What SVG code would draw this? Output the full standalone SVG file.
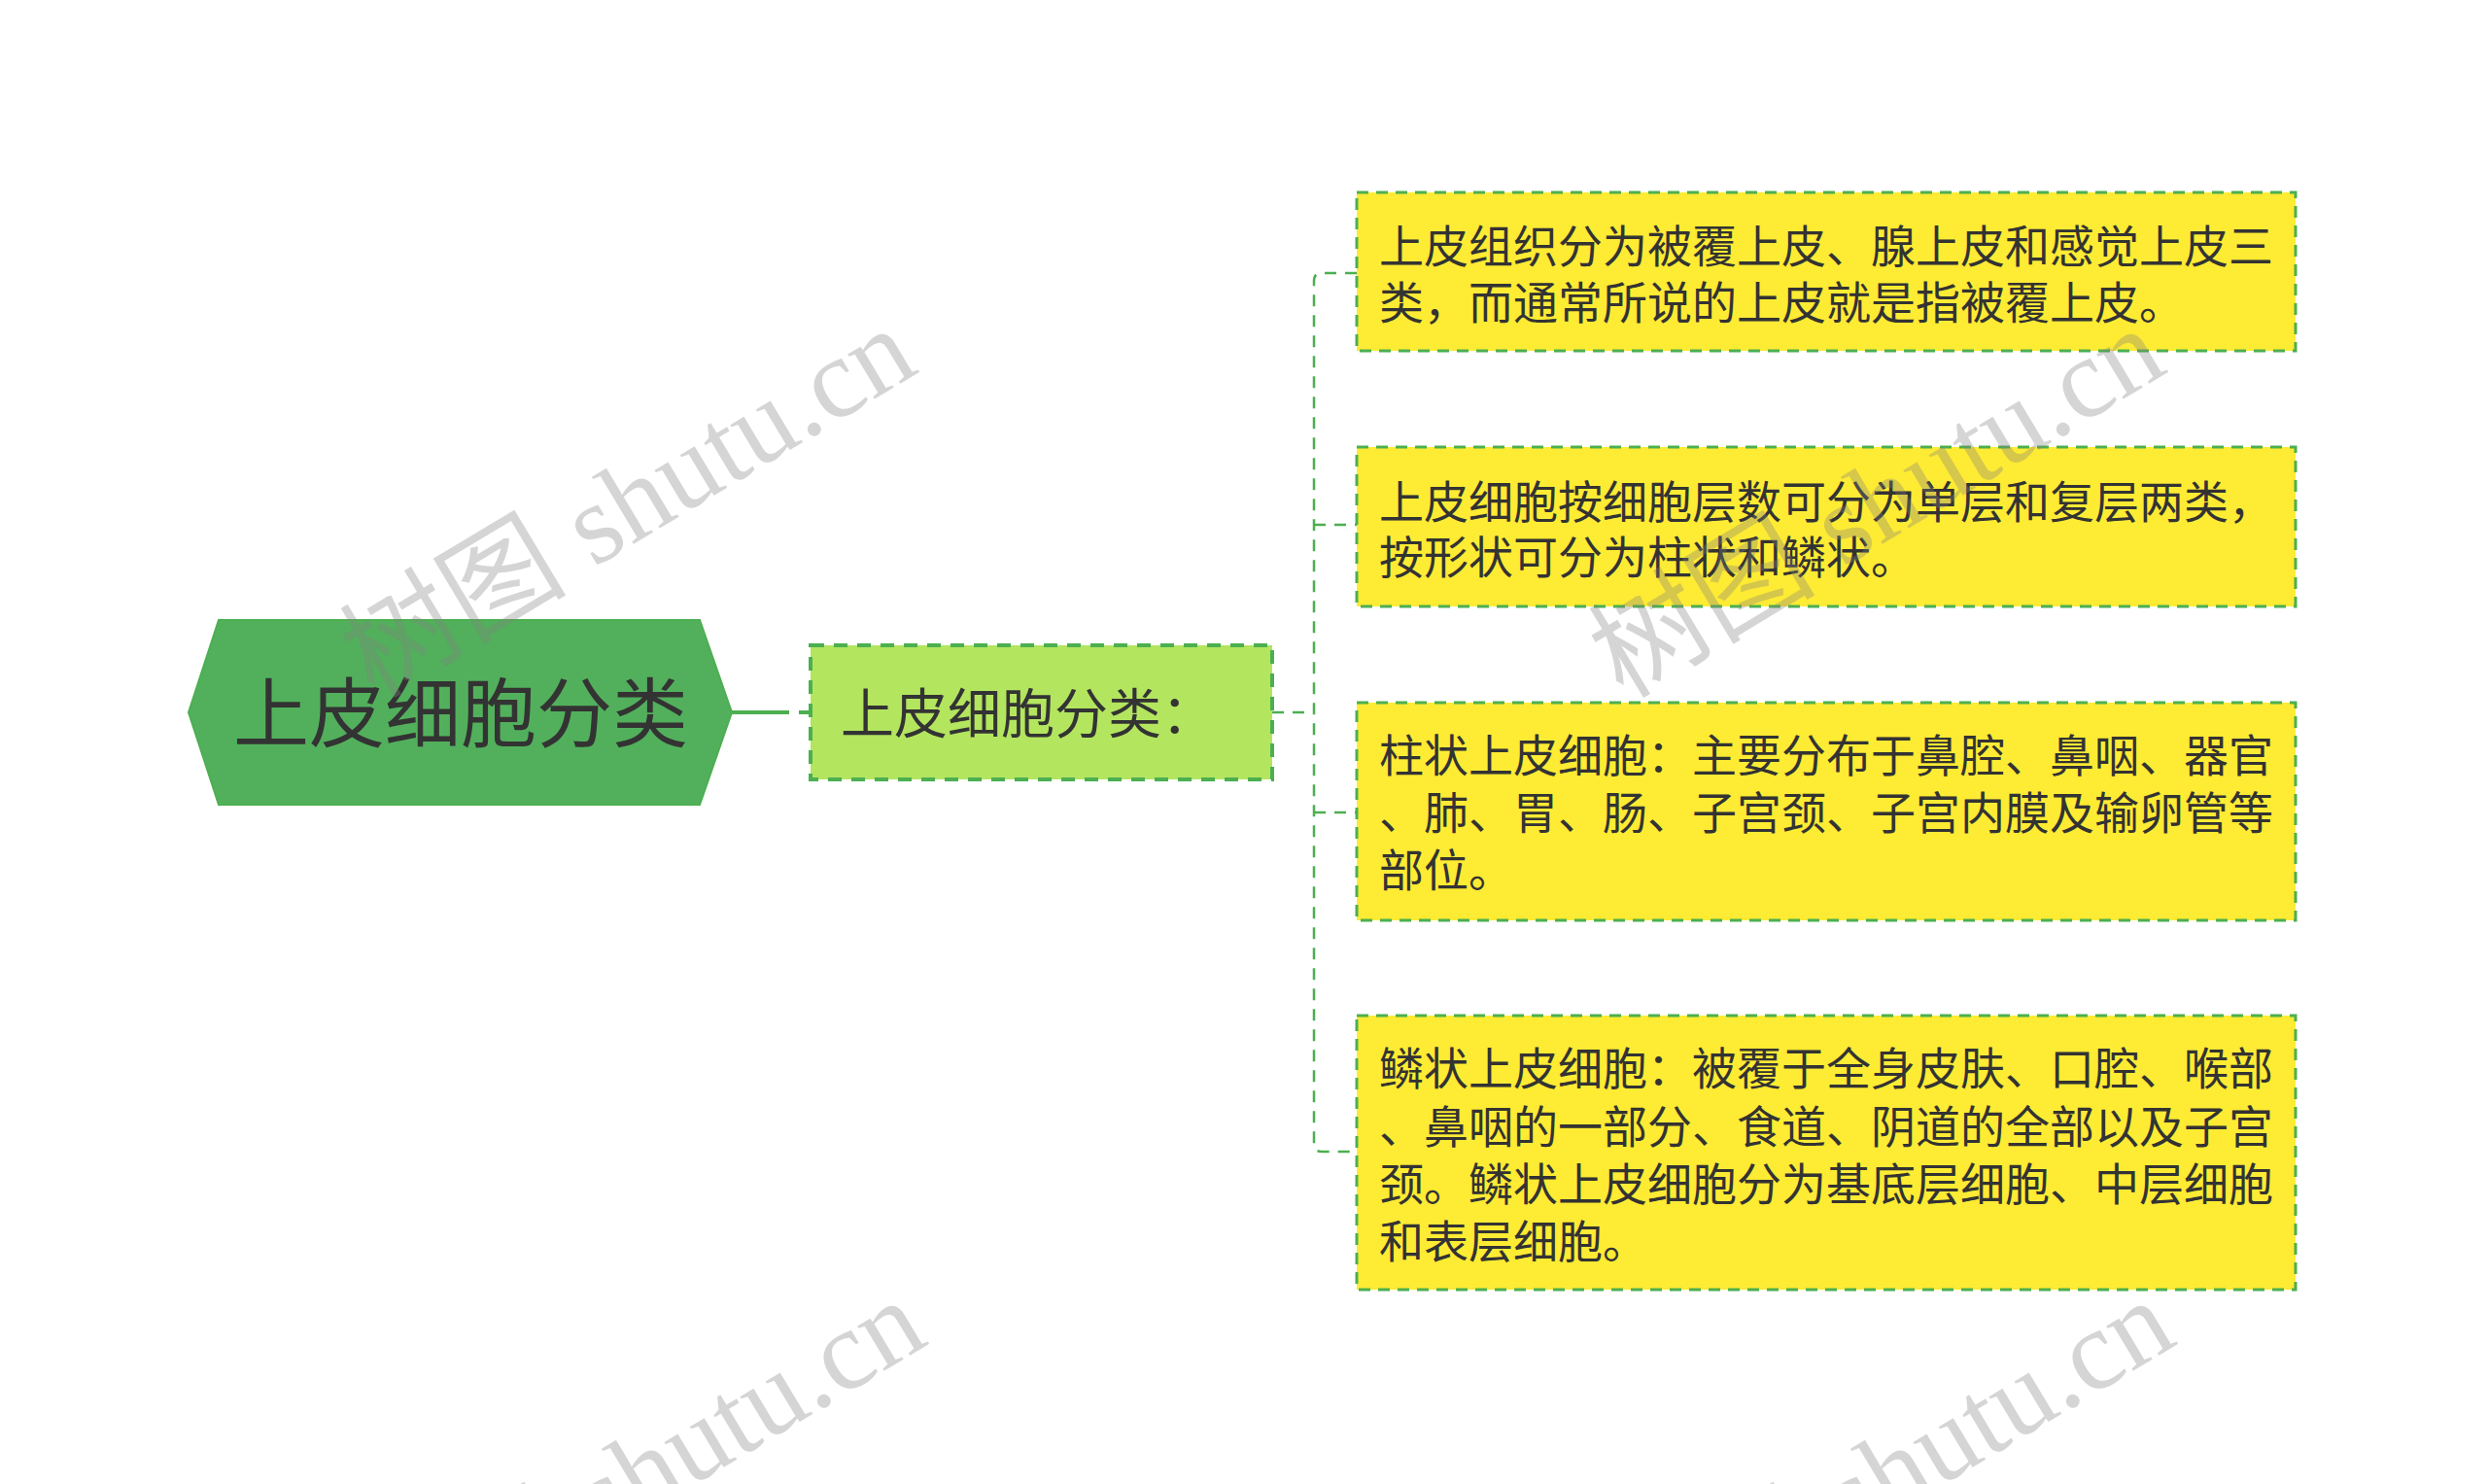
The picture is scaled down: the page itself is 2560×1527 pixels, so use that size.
<svg xmlns="http://www.w3.org/2000/svg" width="2560" height="1527" viewBox="0 0 2560 1527">
<style>
.txt{font-family:"Noto Sans CJK SC","Noto Sans",sans-serif;fill:#333333}
.leaf{fill:#feeb33;stroke:#4caf50;stroke-width:3;stroke-dasharray:12 8}
.conn{fill:none;stroke:#4caf50;stroke-width:2.5;stroke-dasharray:12 9}
.wm{font-family:"Liberation Serif","Noto Sans CJK SC",serif;font-size:117px;fill:#808080;fill-opacity:0.33}
</style>
<rect width="2560" height="1527" fill="#ffffff"/>
<g id="connectors">
  <line x1="753" y1="733" x2="834" y2="733" stroke="#4caf50" stroke-width="4" stroke-dasharray="59 10 12 0"/>
  <line x1="1309" y1="733" x2="1352" y2="733" class="conn"/>
  <path class="conn" d="M1396 281 H1360 Q1352 281 1352 289 V1177 Q1352 1185 1360 1185 H1396"/>
  <line x1="1352" y1="540" x2="1396" y2="540" class="conn"/>
  <line x1="1352" y1="836" x2="1396" y2="836" class="conn"/>
</g>
<g id="root">
  <polygon points="194,733 225,638 720,638 753,733 720,828 225,828" fill="#52b05c" stroke="#4caf50" stroke-width="2"/>
  <text class="txt" x="474" y="763" font-size="78" text-anchor="middle">上皮细胞分类</text>
</g>
<g id="sub">
  <rect x="834" y="664" width="475" height="138" fill="#b3e55f" stroke="#4caf50" stroke-width="4" stroke-dasharray="14 10"/>
  <text class="txt" x="865" y="754" font-size="55">上皮细胞分类：</text>
</g>
<g id="leaf1">
  <rect class="leaf" x="1396" y="198" width="966" height="163"/>
  <text class="txt" font-size="46"><tspan x="1419" y="270">上皮组织分为被覆上皮、腺上皮和感觉上皮三</tspan><tspan x="1419" y="328">类，而通常所说的上皮就是指被覆上皮。</tspan></text>
</g>
<g id="leaf2">
  <rect class="leaf" x="1396" y="460" width="966" height="164"/>
  <text class="txt" font-size="46"><tspan x="1419" y="533">上皮细胞按细胞层数可分为单层和复层两类，</tspan><tspan x="1419" y="590">按形状可分为柱状和鳞状。</tspan></text>
</g>
<g id="leaf3">
  <rect class="leaf" x="1396" y="723" width="966" height="224"/>
  <text class="txt" font-size="46"><tspan x="1419" y="794">柱状上皮细胞：主要分布于鼻腔、鼻咽、器官</tspan><tspan x="1419" y="853">、肺、胃、肠、子宫颈、子宫内膜及输卵管等</tspan><tspan x="1419" y="912">部位。</tspan></text>
</g>
<g id="leaf4">
  <rect class="leaf" x="1396" y="1045" width="966" height="282"/>
  <text class="txt" font-size="46"><tspan x="1419" y="1116">鳞状上皮细胞：被覆于全身皮肤、口腔、喉部</tspan><tspan x="1419" y="1176">、鼻咽的一部分、食道、阴道的全部以及子宫</tspan><tspan x="1419" y="1235">颈。鳞状上皮细胞分为基底层细胞、中层细胞</tspan><tspan x="1419" y="1294">和表层细胞。</tspan></text>
</g>
<g id="watermarks">
  <text class="wm" x="385" y="720" transform="rotate(-31 385 720)">树图 shutu.cn</text>
  <text class="wm" x="1670" y="720" transform="rotate(-31 1670 720)">树图 shutu.cn</text>
  <text class="wm" x="395" y="1720" transform="rotate(-31 395 1720)">树图 shutu.cn</text>
  <text class="wm" x="1680" y="1720" transform="rotate(-31 1680 1720)">树图 shutu.cn</text>
</g>
</svg>
